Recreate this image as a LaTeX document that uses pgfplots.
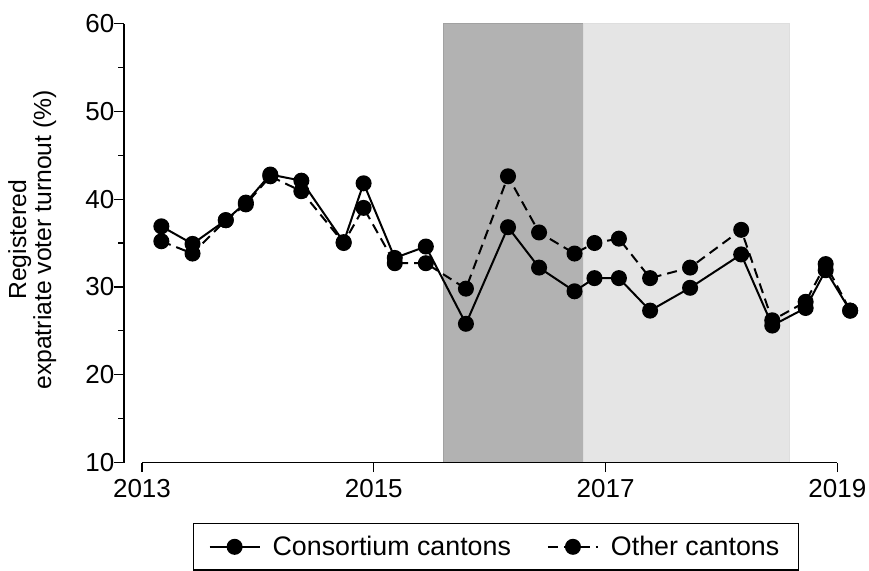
\documentclass[border=0pt]{standalone}
\usepackage{fontspec}
\setmainfont{Liberation Sans}
\usepackage{pgfplots}
\pgfplotsset{compat=1.18}

\pgfplotstableread{
x      cons  other
2013.167 36.9 35.2
2013.436 34.9 33.8
2013.723 37.6 37.6
2013.896 39.6 39.4
2014.107 42.8 42.6
2014.375 42.1 40.9
2014.740 35.1 35.0
2014.912 41.8 39.0
2015.181 33.3 32.7
2015.449 34.6 32.7
2015.795 25.8 29.8
2016.158 36.8 42.6
2016.426 32.2 36.2
2016.732 29.5 33.8
2016.904 31.0 35.0
2017.115 31.0 35.5
2017.384 27.3 31.0
2017.729 29.9 32.2
2018.170 33.7 36.5
2018.438 25.6 26.2
2018.726 27.6 28.3
2018.899 31.9 32.6
2019.110 27.3 27.3
}\turnout

\begin{document}
\begin{tikzpicture}
\begin{axis}[
  scale only axis,
  width=368.29pt, height=219.5pt,
  xmin=2012.8447, xmax=2019.2,
  ymin=10, ymax=60,
  axis x line*=bottom, axis y line*=left,
  x axis line style={draw=none},
  y axis line style={line width=0.6pt},
  every tick/.style={black, line width=0.6pt},
  tick align=outside,
  major tick length=4.8pt,
  minor tick length=3pt,
  xtick={2013,2015,2017,2019},
  ytick={10,20,...,60},
  minor ytick={15,25,...,55},
  /pgf/number format/assume math mode=true,
  /pgf/number format/1000 sep={},
  tick label style={font=\fontsize{13}{15}\selectfont},
  yticklabel style={xshift=3.5pt},
  ylabel={Registered\\expatriate voter turnout (\%)},
  ylabel style={at={(axis description cs:-0.1245,0.507)}, anchor=center,
    align=center, font=\fontsize{12.35}{9.7}\selectfont},
  legend columns=2,
  legend style={at={(axis description cs:0.505,-0.1378)}, anchor=north,
    draw=black, line width=0.6pt, font=\fontsize{13.4}{15}\selectfont,
    inner xsep=7.5pt, inner ysep=4pt,
    /tikz/every odd column/.append style={column sep=4pt},
    /tikz/every even column/.append style={column sep=16pt}},
  legend image code/.code={%
    \draw[mark repeat=2,mark phase=2,#1] plot coordinates {(0pt,0pt) (12.5pt,0pt) (25pt,0pt)};},
  clip=false,
]
\addplot[draw=black!37, fill=black!30, line width=0.6pt, forget plot]
  coordinates {(2015.600,10) (2015.600,60) (2016.808,60) (2016.808,10)} -- cycle;
\addplot[draw=black!13, fill=black!10, line width=0.6pt, forget plot]
  coordinates {(2016.808,10) (2016.808,60) (2018.585,60) (2018.585,10)} -- cycle;
\addplot[black, line width=1pt, mark=*, mark size=3.5pt, mark options={solid, fill=black}]
  table[x=x, y=cons] {\turnout};
\addlegendentry{Consortium cantons}
\addplot[black, line width=1pt, dash pattern=on 5pt off 3pt, mark=*, mark size=3.5pt, mark options={solid, fill=black}]
  table[x=x, y=other] {\turnout};
\addlegendentry{Other cantons}
\draw[line width=0.6pt] (axis cs:2013,10) -- (axis cs:2019,10);
\end{axis}
\pgfresetboundingbox
\path[use as bounding box] (current axis.south west) ++(-62pt,-53.75pt) rectangle ++(434.5pt,285pt);
\end{tikzpicture}
\end{document}
